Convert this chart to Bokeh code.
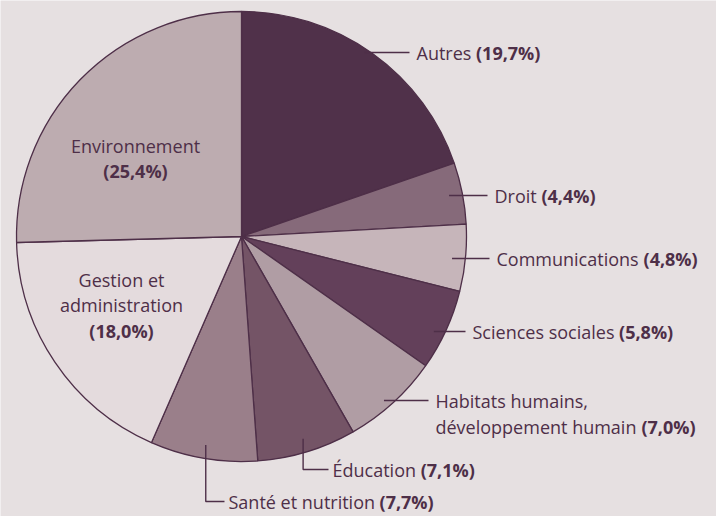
import math
import re
from bokeh.plotting import figure
from bokeh.models import Range1d, ColumnDataSource
from bokeh.core.properties import value
from bokeh.embed import file_html
from bokeh.resources import INLINE

# ---------------- data ----------------
categories = ["Autres", "Droit", "Communications", "Sciences sociales",
              "Habitats humains, développement humain", "Éducation",
              "Santé et nutrition", "Gestion et administration", "Environnement"]
shares = [19.7, 4.4, 4.8, 5.8, 7.0, 7.1, 7.7, 18.0, 25.4]
label_lines = [["Autres"], ["Droit"], ["Communications"], ["Sciences sociales"],
               ["Habitats humains,", "développement humain"], ["Éducation"],
               ["Santé et nutrition"], ["Gestion et", "administration"], ["Environnement"]]
colors = ["#50314a", "#866a7a", "#c6b5ba", "#63405a", "#b09da4",
          "#745466", "#9a7f8a", "#e4dbdd", "#bdacb0"]
pct_text = [("(%.1f%%)" % v).replace(".", ",") for v in shares]

# ---------------- style / layout ----------------
BG = "#e6e0e1"
INK = "#4e2f48"
FONT = "Open Sans"
FS = 18
CX, CY_IMG, R = 241, 236, 225
H = 516


def py(y_img):
    return H - y_img


CY = py(CY_IMG)

# outer label layout: kind, text x, text y (image px)
outer = {
    0: ("h", 416, 52),
    1: ("h", 494, 195),
    2: ("h", 496, 258),
    3: ("h", 472, 331),
    4: ("h", 435, 400),
    5: ("v", 332, 469),
    6: ("v", 228, 501),
}
# inner label layout: center x, first line y, line step
inner = {7: (121, 279, 25.5), 8: (135, 145, 25)}
LINE_STEP = 26

# Open Sans regular advance widths (em)
W = {" ": 532, "A": 1296, "C": 1292, "D": 1495, "E": 1139, "É": 1139, "S": 1124,
     "a": 1139, "c": 975, "d": 1255, "e": 1149, "é": 1149, "h": 1257, "i": 518,
     "l": 518, "m": 1905, "n": 1257, "o": 1237, "p": 1255, "r": 836, "s": 977,
     "t": 723, "u": 1257, "v": 1026, ",": 492}


def text_w(s):
    return sum(W.get(ch, 1150) for ch in s) / 2048.0 * FS


p = figure(width=716, height=516, x_range=Range1d(0, 716), y_range=Range1d(0, 516),
           output_backend="svg", toolbar_location=None, min_border=0)
p.min_border_left = p.min_border_right = p.min_border_top = p.min_border_bottom = 0
p.axis.visible = False
p.grid.visible = False
p.outline_line_color = None
p.background_fill_color = BG
p.border_fill_color = BG

total = sum(shares)
starts, ends, mids = [], [], []
cum = 0.0
for v in shares:
    a0 = math.pi / 2 - 2 * math.pi * cum / total
    cum += v
    a1 = math.pi / 2 - 2 * math.pi * cum / total
    starts.append(a0)
    ends.append(a1)
    mids.append((a0 + a1) / 2)

src = ColumnDataSource(dict(start=starts, end=ends, color=colors, cat=categories))
p.wedge(x=CX, y=CY, radius=R, start_angle="start", end_angle="end", direction="clock",
        fill_color="color", line_color=INK, line_width=1.3, source=src)

norm_x, norm_y, norm_t = [], [], []
bold_x, bold_y, bold_t = [], [], []
lx, ly = [], []

for i, (kind, tx, ty) in outer.items():
    sx = CX + 0.94 * R * math.cos(mids[i])
    sy = CY + 0.94 * R * math.sin(mids[i])
    yy = py(ty)
    if kind == "h":
        lx.append([sx, tx - 7]); ly.append([yy, yy])
    else:
        lx.append([sx, sx, tx - 4]); ly.append([sy, yy, yy])
    lines = label_lines[i]
    for k, ln in enumerate(lines):
        ycur = yy - k * LINE_STEP
        if k == len(lines) - 1:
            norm_x.append(tx); norm_y.append(ycur); norm_t.append(ln + " ")
            bold_x.append(tx + text_w(ln + " ")); bold_y.append(ycur); bold_t.append(pct_text[i])
        else:
            norm_x.append(tx); norm_y.append(ycur); norm_t.append(ln)

p.multi_line(xs=lx, ys=ly, line_color=INK, line_width=1.4)

cen_x, cen_y, cen_t, cen_bx, cen_by, cen_bt = [], [], [], [], [], []
for i, (cx, y0, step) in inner.items():
    lines = label_lines[i]
    for k, ln in enumerate(lines):
        cen_x.append(cx); cen_y.append(py(y0 + k * step)); cen_t.append(ln)
    cen_bx.append(cx); cen_by.append(py(y0 + len(lines) * step)); cen_bt.append(pct_text[i])

common = dict(text_font=value(FONT), text_font_size=value("%dpx" % FS), text_color=INK,
              text_baseline="middle")
p.text(x=norm_x, y=norm_y, text=norm_t, text_align="left", **common)
p.text(x=bold_x, y=bold_y, text=bold_t, text_align="left", text_font_style="bold", **common)
p.text(x=cen_x, y=cen_y, text=cen_t, text_align="center", **common)
p.text(x=cen_bx, y=cen_by, text=cen_bt, text_align="center", text_font_style="bold", **common)

html = file_html(p, INLINE)
html = re.sub(r"<body([^>]*)>", '<body\\1 style="background:%s;margin:0;overflow:hidden">' % BG, html, count=1)
open("out.html", "w").write(html)
